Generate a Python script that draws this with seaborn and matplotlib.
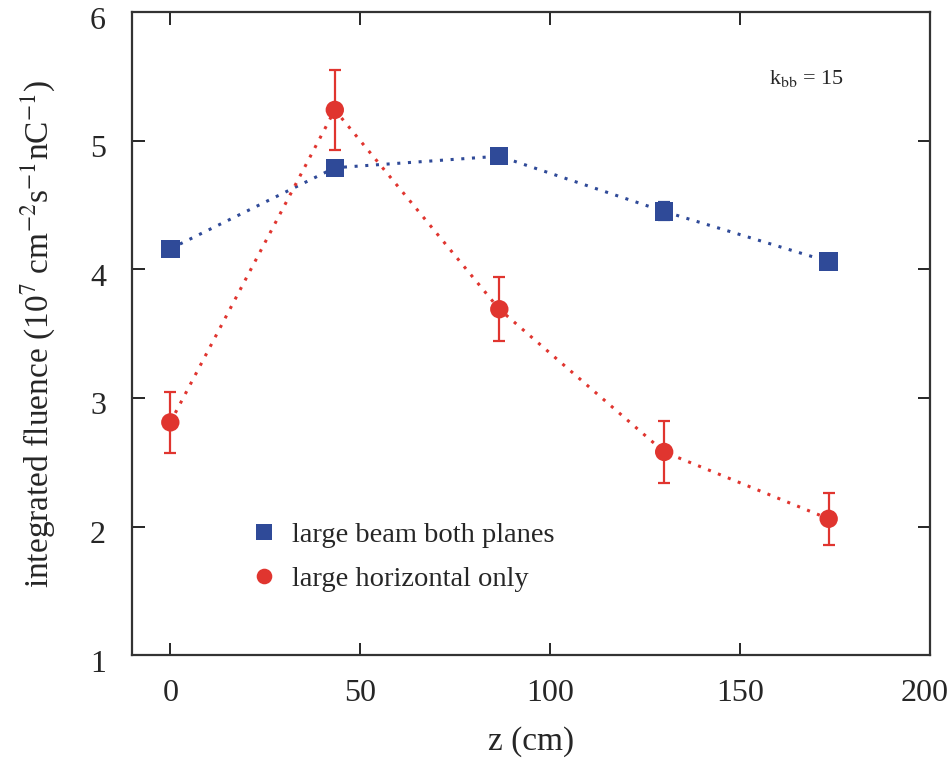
import numpy as np
import pandas as pd
import matplotlib
matplotlib.use("Agg")
import matplotlib.pyplot as plt
import matplotlib.transforms as mtransforms
import seaborn as sns

# data
z = [0, 43.3, 86.6, 130.0, 173.3]
both_planes = [4.16, 4.79, 4.88, 4.45, 4.06]
both_err = [0.05, 0.04, 0.05, 0.07, 0.03]
horiz_only = [2.81, 5.24, 3.69, 2.58, 2.06]
horiz_err = [0.24, 0.31, 0.25, 0.24, 0.20]
labels = ["large beam both planes", "large horizontal only"]

df = pd.DataFrame({
    "z": z * 2,
    "fluence": both_planes + horiz_only,
    "err": both_err + horiz_err,
    "series": [labels[0]] * 5 + [labels[1]] * 5,
})

sns.set_style("ticks")
plt.rcParams["font.family"] = ["Liberation Serif", "DejaVu Serif"]
plt.rcParams["mathtext.fontset"] = "stix"

blue = "#2F4A98"
red = "#E0352F"
pal = {labels[0]: blue, labels[1]: red}

fig, ax = plt.subplots(figsize=(9.52, 7.6), dpi=100)
fig.subplots_adjust(left=0.139, right=0.977, bottom=0.138, top=0.984)

# dotted connecting lines
sns.lineplot(data=df, x="z", y="fluence", hue="series", palette=pal,
             dashes=False, linewidth=2.2, legend=False, ax=ax, sort=False)
for ln in ax.get_lines():
    ln.set_linestyle((0, (1, 2.5)))

# error bars
for lab, col in pal.items():
    d = df[df.series == lab]
    ax.errorbar(d.z, d.fluence, yerr=d.err, fmt="none", ecolor=col,
                elinewidth=1.6, capsize=4.5, capthick=1.6, zorder=3)

# markers
sns.scatterplot(data=df, x="z", y="fluence", hue="series", style="series",
                markers={labels[0]: "s", labels[1]: "o"}, palette=pal,
                s=175, linewidth=0, ax=ax, zorder=4)

ax.set_xlim(-10, 200)
ax.set_ylim(1, 6)
ax.set_xticks([0, 50, 100, 150, 200])
ax.set_yticks([1, 2, 3, 4, 5, 6])
ax.tick_params(direction="in", top=True, right=True, length=9, width=1.4,
               labelsize=23)
ax.tick_params(axis="x", pad=17)
ax.tick_params(axis="y", pad=19)
for sp in ax.spines.values():
    sp.set_linewidth(1.6)
    sp.set_color("#333333")

# gnuplot-like: y tick labels sit a little below their ticks
shift = mtransforms.ScaledTranslation(0, -4 / 72, fig.dpi_scale_trans)
for lbl in ax.get_yticklabels():
    lbl.set_transform(lbl.get_transform() + shift)
xl = ax.get_xticklabels()[-1]
xl.set_transform(xl.get_transform() + mtransforms.ScaledTranslation(-4 / 72, 0, fig.dpi_scale_trans))

ax.set_xlabel("z (cm)", fontsize=24)
ax.set_ylabel(r"integrated fluence (10$^7$ cm$^{-2}$s$^{-1}$nC$^{-1}$)", fontsize=24)
ax.xaxis.set_label_coords(0.5, -0.11)
ax.yaxis.set_label_coords(-0.095, 0.5)

ax.text(157.5, 5.44, r"k$_{\mathrm{bb}}$ = 15", fontsize=16)

leg = ax.legend(loc="lower left", bbox_to_anchor=(0.105, 0.059), frameon=False,
                fontsize=20.5, handlelength=1.6, handletextpad=0.18,
                labelspacing=0.62, markerscale=0.85)

fig.savefig("out.png", dpi=100)
